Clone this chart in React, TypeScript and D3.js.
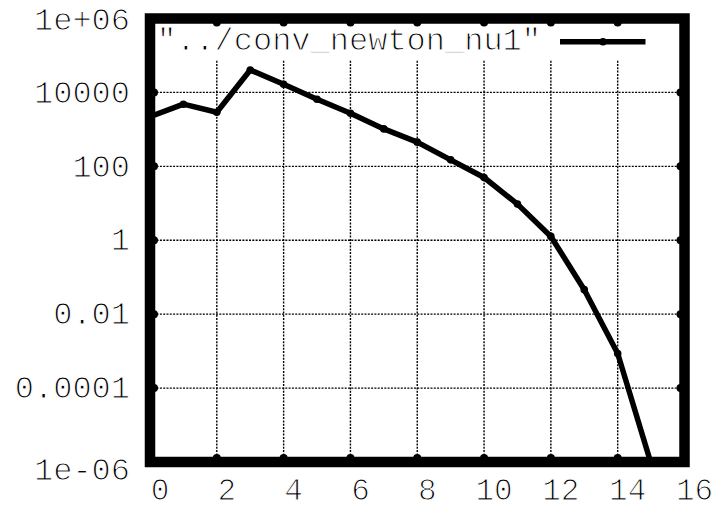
import React, { useEffect, useRef } from 'react';
import * as d3 from 'd3';

// newton iterations and residual norm
const iterations = [0, 1, 2, 3, 4, 5, 6, 7, 8, 9, 10, 11, 12, 13, 14, 15];
const residuals = [2200, 4800, 2900, 40500, 16700, 6550, 2740, 1030, 451, 150, 49.8, 9.5, 1.27, 0.046, 8.6e-4, 9e-7];

const xTicks = [0, 2, 4, 6, 8, 10, 12, 14, 16];
const yTicks = [1e-6, 1e-4, 1e-2, 1, 100, 1e4, 1e6];
const yTickLabels = ['1e-06', '0.0001', '0.01', '1', '100', '10000', '1e+06'];
const legendLabel = '"../conv_newton_nu1"';

const W = 715;
const H = 510;
const FONT = '"Liberation Mono", "DejaVu Sans Mono", monospace';

// liberation mono is heavier than the courier in the original,
// a thin white stroke over the glyphs slims them down a bit
const thinText = (sel: any, size = 32) =>
  sel.attr('font-family', FONT)
    .attr('font-size', size)
    .attr('fill', '#000')
    .attr('stroke', '#fff')
    .attr('stroke-width', 1.1);

const App = () => {
  const svgRef = useRef<SVGSVGElement>(null);

  useEffect(() => {
    const svg = d3.select(svgRef.current);
    svg.selectAll('*').remove();

    const x = d3.scaleLinear().domain([0, 16]).range([150, 684.5]);
    const y = d3.scaleLog().domain([1e-6, 1e6]).range([462, 18.5]);
    const [x0, x1] = x.range();
    const [y0, y1] = y.range();

    svg.append('rect').attr('width', W).attr('height', H).attr('fill', '#fff');

    svg.append('clipPath').attr('id', 'plotclip')
      .append('rect')
      .attr('x', x0).attr('y', y1)
      .attr('width', x1 - x0).attr('height', y0 - y1);

    // grid
    const grid = svg.append('g')
      .attr('stroke', '#000')
      .attr('stroke-width', 1.4)
      .attr('stroke-dasharray', '2,1.3');

    grid.selectAll('line.h')
      .data(yTicks.slice(1, -1))
      .enter().append('line')
      .attr('x1', x0).attr('x2', x1)
      .attr('y1', d => y(d)).attr('y2', d => y(d));

    grid.selectAll('line.v')
      .data(xTicks.slice(1, -1))
      .enter().append('line')
      .attr('x1', d => x(d)).attr('x2', d => x(d))
      .attr('y1', y0).attr('y2', y1);

    // key area is opaque
    svg.append('rect')
      .attr('x', x0).attr('y', y1)
      .attr('width', x1 - x0).attr('height', 60 - y1)
      .attr('fill', '#fff');

    svg.append('text')
      .attr('x', 541).attr('y', 50)
      .attr('text-anchor', 'end')
      .call(thinText)
      .text(legendLabel);

    svg.append('line')
      .attr('x1', 560).attr('x2', 645.5)
      .attr('y1', 41.7).attr('y2', 41.7)
      .attr('stroke', '#000').attr('stroke-width', 5.5);
    svg.append('circle')
      .attr('cx', 603).attr('cy', 41.7).attr('r', 3.8).attr('fill', '#000');

    // data
    const pts = iterations.map((it, i) => [it, residuals[i]] as [number, number]);
    const line = d3.line<[number, number]>().x(d => x(d[0])).y(d => y(d[1]));

    const plot = svg.append('g').attr('clip-path', 'url(#plotclip)');
    plot.append('path')
      .datum(pts)
      .attr('d', line)
      .attr('fill', 'none')
      .attr('stroke', '#000')
      .attr('stroke-width', 5.5)
      .attr('stroke-linejoin', 'round');

    plot.selectAll('circle')
      .data(pts)
      .enter().append('circle')
      .attr('cx', d => x(d[0]))
      .attr('cy', d => y(d[1]))
      .attr('r', 3.8)
      .attr('fill', '#000');

    // tick marks on all four sides
    const ticks = svg.append('g')
      .attr('stroke', '#000')
      .attr('stroke-width', 8)
      .attr('stroke-linecap', 'round');
    xTicks.forEach(t => {
      ticks.append('line').attr('x1', x(t)).attr('x2', x(t)).attr('y1', y0).attr('y2', y0 - 4);
      ticks.append('line').attr('x1', x(t)).attr('x2', x(t)).attr('y1', y1).attr('y2', y1 + 4);
    });
    yTicks.forEach(t => {
      ticks.append('line').attr('x1', x0).attr('x2', x0 + 4).attr('y1', y(t)).attr('y2', y(t));
      ticks.append('line').attr('x1', x1).attr('x2', x1 - 4).attr('y1', y(t)).attr('y2', y(t));
    });

    // border
    svg.append('rect')
      .attr('x', x0).attr('y', y1)
      .attr('width', x1 - x0).attr('height', y0 - y1)
      .attr('fill', 'none')
      .attr('stroke', '#000')
      .attr('stroke-width', 10.5);

    // tick labels
    svg.append('g')
      .selectAll('text')
      .data(xTicks)
      .enter().append('text')
      .attr('x', d => x(d) + 10)
      .attr('y', 500)
      .attr('text-anchor', 'middle')
      .call(thinText, 31)
      .text(d => String(d));

    svg.append('g')
      .selectAll('text')
      .data(yTicks)
      .enter().append('text')
      .attr('x', 130)
      .attr('y', (d, i) => y(d) + (i === 0 ? 8 : i === yTicks.length - 1 ? 1.5 : 0))
      .attr('dy', '0.32em')
      .attr('text-anchor', 'end')
      .call(thinText)
      .text((d, i) => yTickLabels[i]);
  }, []);

  return (
    <svg
      ref={svgRef}
      width={W}
      height={H}
      style={{ position: 'absolute', left: 0, top: 0, display: 'block' }}
    ></svg>
  );
};

export default App;
